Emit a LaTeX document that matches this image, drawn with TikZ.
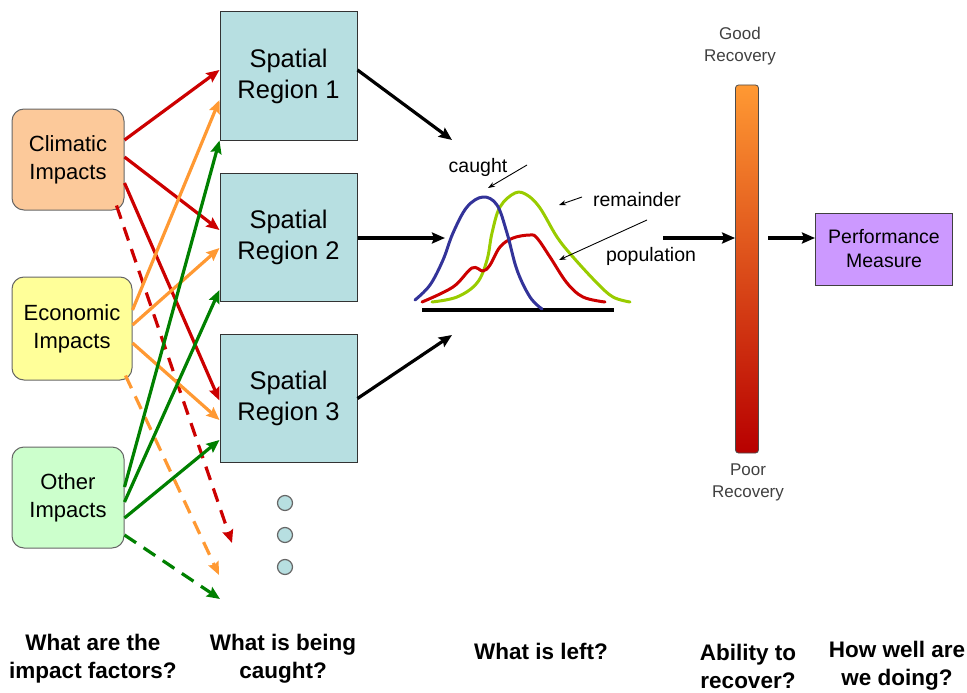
\documentclass[tikz,border=0pt]{standalone}
\usepackage{fontspec}
\setmainfont{Liberation Sans}
\usetikzlibrary{arrows.meta}
\definecolor{climfill}{HTML}{FCC99A}
\definecolor{econfill}{HTML}{FFFF99}
\definecolor{othfill}{HTML}{CCFFCC}
\definecolor{regfill}{HTML}{B7DFE1}
\definecolor{perffill}{HTML}{CC99FF}
\definecolor{cred}{HTML}{CC0000}
\definecolor{corange}{HTML}{FF9933}
\definecolor{cgreen}{HTML}{008000}
\definecolor{cblue}{HTML}{333399}
\definecolor{clime}{HTML}{99CC00}
\definecolor{edgegray}{HTML}{666666}
\tikzset{
  impact/.style={draw=edgegray, line width=1pt, rounded corners=12pt, inner sep=0pt,
    align=center, font=\fontsize{22}{28}\selectfont},
  region/.style={draw=black!80, line width=1pt, fill=regfill, minimum width=137pt,
    minimum height=128pt, inner sep=0pt, align=center, font=\fontsize{25.5}{31}\selectfont},
  dot/.style={circle, draw=edgegray, line width=1.2pt, fill=regfill, minimum size=15pt, inner sep=0pt},
  link/.style={line width=3.2pt, -{Stealth[length=13pt,width=11pt,inset=2pt]}},
  dlink/.style={link, dash pattern=on 14pt off 9pt},
  flow/.style={line width=3.2pt, black, -{Stealth[length=13pt,width=11pt,inset=2pt]}},
  pointer/.style={line width=0.9pt, black, -{Stealth[length=7pt,width=5pt]}},
  curve/.style={line width=3pt, line join=round, line cap=round},
  small/.style={font=\fontsize{19.5}{23}\selectfont},
  barlabel/.style={text=black!75, align=center, font=\fontsize{17}{22}\selectfont},
  question/.style={align=center, font=\bfseries\fontsize{22.5}{28}\selectfont}
}
\begin{document}
\begin{tikzpicture}[x=1pt, y=-1pt]
\useasboundingbox (0,0) rectangle (967,693);

% impact factor boxes
\node[impact, fill=climfill, minimum width=112pt, minimum height=101pt] (clim) at (68,159.5) {Climatic\\Impacts};
\node[impact, fill=econfill, minimum width=120pt, minimum height=103pt] (econ) at (72,328.5) {Economic\\Impacts};
\node[impact, fill=othfill, minimum width=112pt, minimum height=101pt] (oth) at (68,497.5) {Other\\Impacts};

% spatial regions
\node[region] (r1) at (288.5,76) {Spatial\\Region 1};
\node[region] (r2) at (288.5,237) {Spatial\\Region 2};
\node[region] (r3) at (288.5,398.5) {Spatial\\Region 3};
\node[dot] (d1) at (285,503) {};
\node[dot] (d2) at (285,535) {};
\node[dot] (d3) at (285,567) {};

% open ends of the dashed links
\coordinate (cend) at (232,543);
\coordinate (eend) at (219,575);
\coordinate (oend) at (220,599);

% climatic links
\draw[link, cred] ([yshift=19.5pt]clim.east) -- ([yshift=6pt]r1.west);
\draw[link, cred] ([yshift=2.5pt]clim.east) -- ([yshift=7pt]r2.west);
\draw[link, cred] ([yshift=-23.5pt]clim.east) -- ([yshift=-2pt]r3.west);
\draw[dlink, cred] ([xshift=-8pt,yshift=5pt]clim.south east) -- (cend);
% economic links
\draw[link, corange] ([yshift=18.5pt]econ.east) -- ([yshift=-24pt]r1.west);
\draw[link, corange] ([yshift=3.5pt]econ.east) -- ([yshift=-11pt]r2.west);
\draw[link, corange] ([yshift=-14.5pt]econ.east) -- ([yshift=-21.5pt]r3.west);
\draw[dlink, corange] ([xshift=-7pt,yshift=5pt]econ.south east) -- (eend);
% other links
\draw[link, cgreen] ([yshift=10.5pt]oth.east) -- (r1.south west);
\draw[link, cgreen] ([yshift=-4.5pt]oth.east) -- ([yshift=-53pt]r2.west);
\draw[link, cgreen] ([yshift=-20.5pt]oth.east) -- ([yshift=-41.5pt]r3.west);
\draw[dlink, cgreen] ([yshift=-37.5pt]oth.east) -- (oend);

% distributions
\coordinate (in1) at (452,140);
\coordinate (in2) at (445,238);
\coordinate (in3) at (452,335);
\draw[flow] ([yshift=6pt]r1.east) -- (in1);
\draw[flow] ([yshift=-1pt]r2.east) -- (in2);
\draw[flow] (r3.east) -- (in3);

\coordinate (axl) at (422,310);
\coordinate (axr) at (614,310);
\draw[line width=3.5pt] (axl) -- (axr);
\draw[curve, clime] plot[smooth, tension=0.6] coordinates {(432,302) (457,297) (477,283) (487,260) (492,233) (500,207) (515,193) (527,195) (540,208) (557,237) (573,257) (597,283) (613,297) (630,302)};
\draw[curve, cred] plot[smooth, tension=0.6] coordinates {(422,302) (453,287) (472,268) (483,271) (490,265) (500,247) (513,238) (530,235) (537,238) (550,257) (567,283) (583,297) (605,302)};
\draw[curve, cblue] plot[smooth, tension=0.6] coordinates {(415,300) (430,285) (443,260) (453,233) (467,207) (483,197) (497,205) (507,233) (517,270) (530,297) (542,309)};

\node[small] (caught) at (478,167) {caught};
\node[small] (remain) at (637,200) {remainder};
\node[small] (popul) at (651,256) {population};
\coordinate (pc) at (527,165);
\coordinate (tc) at (488,188);
\coordinate (pr) at (582,197);
\coordinate (tr) at (559,205);
\coordinate (pp) at (647,220);
\coordinate (tp) at (559,260);
\draw[pointer] (pc) -- (tc);
\draw[pointer] (pr) -- (tr);
\draw[pointer] (pp) -- (tp);

% recovery scale
\node[draw=black!70, line width=0.8pt, rounded corners=3pt, top color=corange, bottom color=cred!90!black,
  minimum width=23pt, minimum height=368pt, inner sep=0pt] (bar) at (747,269) {};
\node[barlabel] (good) at (740,46) {Good\\Recovery};
\node[barlabel] (poor) at (748,482) {Poor\\Recovery};
\coordinate (out) at (663,238);
\draw[flow] (out) -- (bar.west |- out);

% performance measure
\node[draw=black!75, line width=1pt, fill=perffill, minimum width=137pt, minimum height=72pt,
  inner sep=0pt, align=center, font=\fontsize{19.5}{24}\selectfont] (perf) at (884,249) {Performance\\Measure};
\coordinate (bo) at (768,238);
\draw[flow] (bo) -- (perf.west |- bo);

% column questions
\node[question] (q1) at (93,659) {What are the\\impact factors?};
\node[question] (q2) at (283,659) {What is being\\caught?};
\node[question] (q3) at (541,651) {What is left?};
\node[question] (q4) at (748,666) {Ability to\\recover?};
\node[question] (q5) at (897,666) {How well are\\we doing?};
\end{tikzpicture}
\end{document}
